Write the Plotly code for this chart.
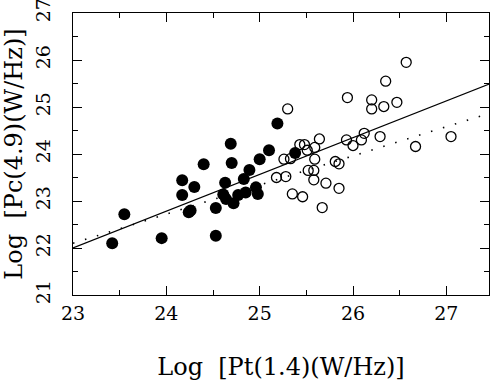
import plotly.graph_objects as go

# ── data ─────────────────────────────────────────────────────────────────────
filled_x = [23.42, 23.55, 23.95, 24.17, 24.17, 24.30, 24.24, 24.26, 24.40, 24.53,
            24.53, 24.63, 24.61, 24.64, 24.69, 24.70, 24.72, 24.77, 24.83, 24.85,
            24.89, 24.96, 24.98, 25.00, 25.10, 25.19, 25.38]
filled_y = [22.10, 22.72, 22.21, 23.44, 23.13, 23.30, 22.76, 22.80, 23.78, 22.85,
            22.26, 23.39, 23.14, 23.04, 24.22, 23.81, 22.95, 23.13, 23.47, 23.18,
            23.66, 23.29, 23.15, 23.89, 24.08, 24.65, 24.02]

open_x = [25.30, 25.18, 25.28, 25.26, 25.33, 25.35, 25.46, 25.43, 25.48, 25.51,
          25.59, 25.64, 25.59, 25.52, 25.58, 25.58, 25.71, 25.67, 25.81, 25.85,
          25.85, 25.93, 26.00, 25.94, 26.09, 26.12, 26.20, 26.20, 26.29, 26.33,
          26.35, 26.47, 26.57, 26.67, 27.05]
open_y = [24.96, 23.50, 23.52, 23.89, 23.90, 23.15, 23.09, 24.20, 24.20, 24.08,
          24.14, 24.32, 23.89, 23.65, 23.65, 23.45, 23.38, 22.86, 23.84, 23.79,
          23.27, 24.30, 24.18, 25.20, 24.30, 24.44, 25.15, 24.96, 24.37, 25.01,
          25.55, 25.10, 25.95, 24.16, 24.37]

fit_x = [23.0, 27.5]
fit_solid_y = [22.00, 25.52]
fit_dotted_y = [22.10, 24.89]

x_ticks = [23, 24, 25, 26, 27]
y_ticks = [21, 22, 23, 24, 25, 26, 27]

FONT = "DejaVu Serif, Liberation Serif, serif"

fig = go.Figure()

fig.add_trace(go.Scatter(
    x=fit_x, y=fit_dotted_y, mode="lines",
    line=dict(color="black", width=1.6, dash="1.5px,11px"),
    showlegend=False,
))
fig.add_trace(go.Scatter(
    x=fit_x, y=fit_solid_y, mode="lines",
    line=dict(color="black", width=1.3),
    showlegend=False,
))
fig.add_trace(go.Scatter(
    x=open_x, y=open_y, mode="markers",
    marker=dict(symbol="circle-open", size=10, color="black",
                line=dict(color="black", width=1.3)),
    showlegend=False,
))
fig.add_trace(go.Scatter(
    x=filled_x, y=filled_y, mode="markers",
    marker=dict(symbol="circle", size=12, color="black", line=dict(width=0)),
    showlegend=False,
))

axis_common = dict(
    showgrid=False, zeroline=False, automargin=False,
    showline=True, linecolor="black", linewidth=1.3, mirror="ticks",
    ticks="inside", ticklen=9, tickwidth=1.2, tickcolor="black",
    ticklabeloverflow="allow",
    tickfont=dict(family=FONT, size=19, color="black"),
)

fig.update_xaxes(
    range=[23, 27.457], tickvals=x_ticks, ticklabelstandoff=1,
    minor=dict(ticks="inside", ticklen=5, dtick=0.5, tick0=23, tickcolor="black",
               tickwidth=1.2),
    title=dict(text="Log  [Pt(1.4)(W/Hz)]", font=dict(family=FONT, size=24, color="black"),
               standoff=35),
    **axis_common,
)
fig.update_yaxes(
    range=[21, 27], tickvals=y_ticks, tickangle=-90, ticklabelstandoff=14,
    minor=dict(ticks="inside", ticklen=5, dtick=0.5, tick0=21, tickcolor="black",
               tickwidth=1.2),
    title=dict(text="Log  [Pc(4.9)(W/Hz)]", font=dict(family=FONT, size=24, color="black"),
               standoff=6),
    **axis_common,
)

fig.update_layout(
    width=494, height=381,
    margin=dict(l=73, r=5, t=13, b=86),
    paper_bgcolor="white", plot_bgcolor="white",
    font=dict(family=FONT, color="black"),
)

# page body has a default margin; drop it so the figure sits at the window corner
fig.write_html("out.html", config={"displayModeBar": False},
               post_script="document.body.style.margin='0';")
